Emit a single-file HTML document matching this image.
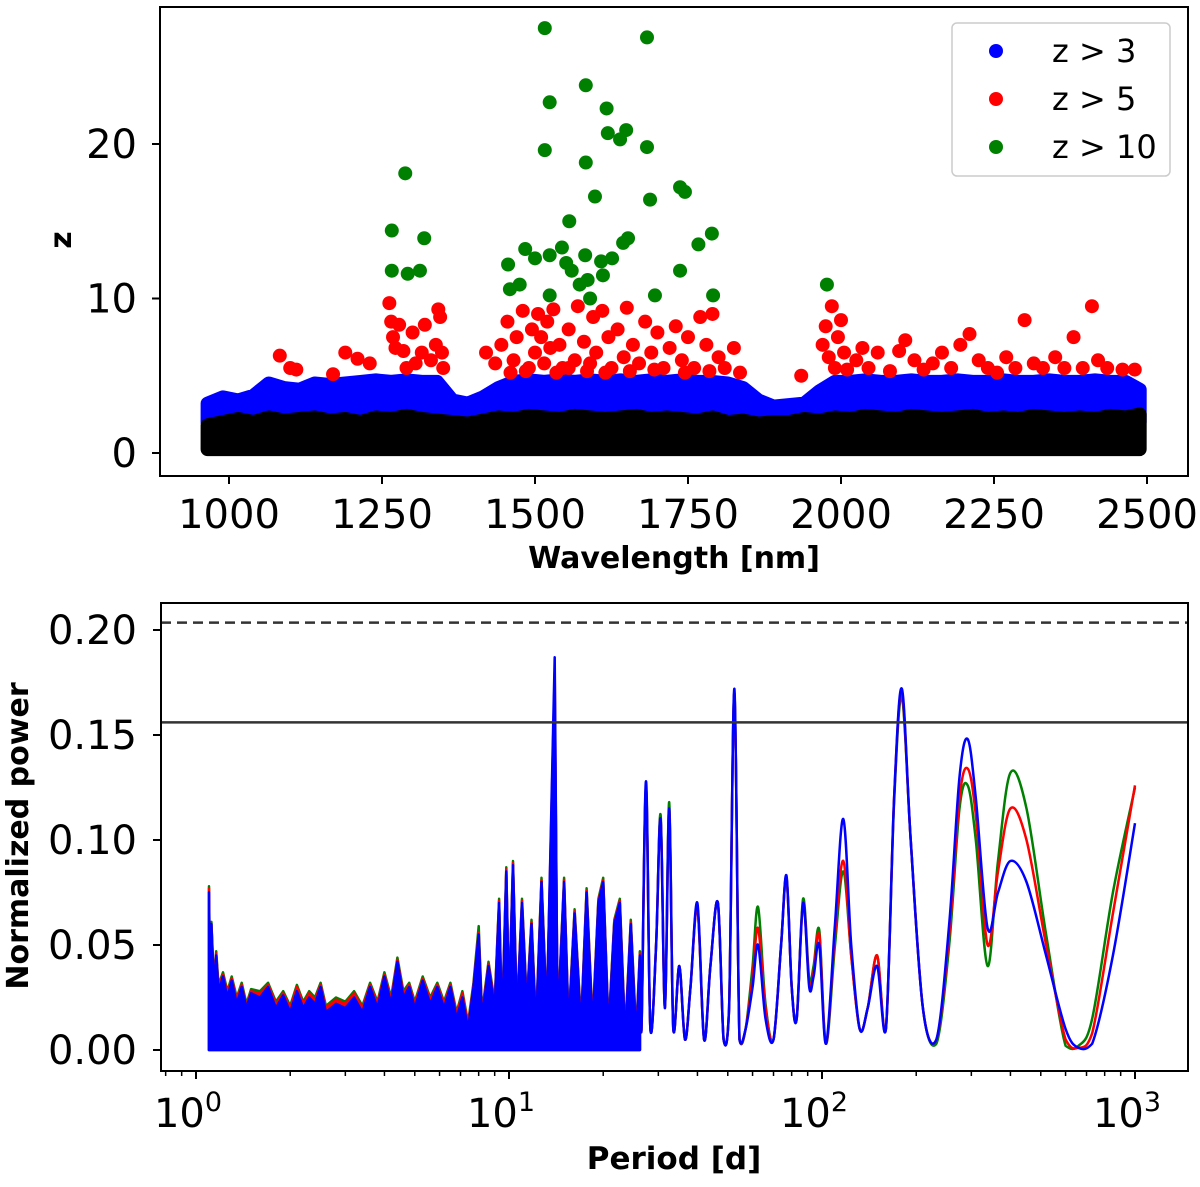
<!DOCTYPE html>
<html><head><meta charset="utf-8"><style>
body{margin:0;background:#fff}
svg text{font-family:"DejaVu Sans","Liberation Sans",sans-serif}
</style></head><body>
<svg id="fig" width="1200" height="1182" viewBox="0 0 1200 1182" xmlns="http://www.w3.org/2000/svg">
<g id="topPanel"></g>
<g id="botPanel"></g>
</svg>
<script>
// ---------- top panel data ----------
const blackWl=[965,990,1015,1040,1065,1090,1115,1140,1165,1190,1215,1240,1265,1290,1315,1340,1365,1390,1415,1440,1465,1490,1515,1540,1565,1590,1615,1640,1665,1690,1715,1740,1765,1790,1815,1840,1865,1890,1915,1940,1965,1990,2015,2040,2065,2090,2115,2140,2165,2190,2215,2240,2265,2290,2315,2340,2365,2390,2415,2440,2465,2488];
const blackTop=[1.8,2.0,2.2,2.0,2.3,2.1,2.2,2.3,2.1,2.2,2.0,2.3,2.2,2.4,2.2,2.1,2.0,1.9,2.1,2.3,2.2,2.4,2.3,2.2,2.4,2.3,2.2,2.3,2.4,2.2,2.3,2.2,2.1,2.3,2.0,2.1,1.9,2.0,2.0,2.2,2.1,2.3,2.2,2.4,2.3,2.2,2.4,2.3,2.2,2.3,2.4,2.2,2.3,2.2,2.4,2.3,2.2,2.3,2.2,2.4,2.3,2.5];
const blueWl=[965,990,1015,1040,1065,1090,1115,1140,1165,1190,1215,1240,1265,1290,1315,1340,1365,1390,1415,1440,1465,1490,1515,1540,1565,1590,1615,1640,1665,1690,1715,1740,1765,1790,1815,1840,1865,1890,1915,1940,1965,1990,2015,2040,2065,2090,2115,2140,2165,2190,2215,2240,2265,2290,2315,2340,2365,2390,2415,2440,2465,2488];
const blueTop=[3.2,3.6,3.4,3.7,4.5,4.2,4.1,4.5,4.4,4.5,4.6,4.7,4.6,4.7,4.6,4.6,3.4,3.2,3.6,4.2,4.6,4.7,4.6,4.7,4.6,4.7,4.6,4.7,4.6,4.7,4.6,4.7,4.6,4.6,4.5,4.2,3.4,3.0,3.1,3.2,4.0,4.6,4.6,4.7,4.6,4.6,4.7,4.6,4.6,4.7,4.6,4.6,4.7,4.6,4.6,4.7,4.6,4.6,4.7,4.6,4.6,4.1];
const redWl=[1083,1100,1110,1170,1190,1210,1230,1262,1265,1268,1272,1278,1285,1290,1300,1305,1315,1320,1330,1338,1342,1345,1348,1350,1420,1435,1445,1455,1465,1470,1480,1490,1495,1500,1505,1510,1515,1520,1525,1530,1540,1545,1555,1565,1570,1580,1590,1595,1600,1610,1620,1625,1635,1645,1650,1660,1670,1680,1690,1700,1710,1720,1730,1740,1750,1760,1770,1780,1790,1800,1810,1825,1835,1460,1485,1535,1555,1585,1615,1655,1695,1745,1785,1935,1970,1975,1980,1985,1990,1995,2000,2005,2010,2025,2035,2045,2060,2080,2095,2105,2120,2135,2150,2165,2180,2195,2210,2225,2240,2255,2270,2285,2300,2315,2330,2350,2365,2380,2395,2410,2420,2435,2460,2480];
const redZ=[6.3,5.5,5.4,5.1,6.5,6.1,5.8,9.7,8.5,7.5,6.8,8.3,6.6,5.5,7.8,5.8,6.5,8.3,6.0,7.0,9.3,8.8,6.5,5.5,6.5,5.8,7.0,8.5,6.0,7.5,9.2,5.5,8.0,6.5,9.0,7.5,5.8,8.5,6.8,9.3,7.0,5.5,8.0,6.0,9.5,7.2,5.8,8.8,6.5,9.2,7.5,5.5,8.0,6.2,9.4,7.0,5.8,8.5,6.5,7.8,5.5,6.8,8.2,6.0,7.5,5.5,8.8,7.0,9.0,6.2,5.5,6.8,5.2,5.2,5.3,5.2,5.5,5.3,5.2,5.3,5.4,5.2,5.3,5.0,7.0,8.2,6.2,9.5,5.5,7.5,8.6,6.5,5.4,6.0,6.8,5.5,6.5,5.3,6.6,7.3,6.0,5.4,5.8,6.5,5.5,7.0,7.7,6.0,5.5,5.2,6.2,5.5,8.6,5.8,5.5,6.2,5.5,7.5,5.5,9.5,6.0,5.5,5.4,5.4];
const greenWl=[1266,1288,1266,1292,1319,1312,1516,1524,1516,1583,1617,1583,1598,1619,1649,1639,1683,1683,1737,1745,1688,1556,1789,1767,1456,1484,1500,1524,1544,1582,1608,1626,1652,1644,1551,1560,1459,1475,1524,1573,1586,1611,1696,1737,1791,1977,1590];
const greenZ=[14.4,18.1,11.8,11.6,13.9,11.8,27.5,22.7,19.6,23.8,22.3,18.8,16.6,20.7,20.9,20.3,26.9,19.8,17.2,16.9,16.4,15.0,14.2,13.5,12.2,13.2,12.6,12.8,13.3,12.8,12.4,12.6,13.9,13.6,12.3,11.8,10.6,10.9,10.2,10.9,11.2,11.5,10.2,11.8,10.2,10.9,10.0];
const topXTicks=[1000,1250,1500,1750,2000,2250,2500];
const topYTicks=[0,10,20];
// ---------- bottom panel data ----------
const forestP=[1.10,1.11,1.12,1.14,1.16,1.18,1.22,1.26,1.3,1.35,1.4,1.45,1.5,1.6,1.7,1.8,1.9,2.0,2.1,2.2,2.3,2.4,2.5,2.6,2.8,3.0,3.2,3.4,3.6,3.8,4.0,4.2,4.4,4.6,4.8,5.0,5.3,5.6,5.9,6.2,6.5,6.8,7.1,7.4,7.7,8.0,8.2,8.6,9.0,9.3,9.5,9.8,10.0,10.3,10.6,11.0,11.4,11.8,12.2,12.7,13.2,14.0,14.3,15.0,15.5,16.2,17.0,17.7,18.5,19.3,20.0,20.8,21.7,22.6,23.5,24.5,25.5,26.2];
const forestBlue=[.075,.02,.06,.03,.045,.028,.035,.025,.033,.022,.03,.02,.027,.025,.03,.02,.026,.018,.028,.02,.025,.022,.03,.018,.022,.02,.025,.018,.03,.02,.035,.022,.042,.025,.03,.02,.033,.022,.03,.02,.03,.015,.025,.01,.03,.055,.015,.04,.02,.07,.01,.085,.02,.088,.015,.07,.02,.06,.01,.08,.015,.187,.01,.08,.01,.065,.01,.075,.01,.07,.08,.008,.06,.07,.005,.06,.005,.045];
const forestRed=[.077,.02,.06,.032,.046,.03,.036,.027,.034,.024,.031,.021,.028,.027,.031,.022,.027,.02,.03,.022,.027,.024,.031,.02,.024,.022,.027,.02,.031,.022,.036,.024,.043,.027,.031,.022,.034,.024,.031,.022,.031,.017,.027,.012,.031,.056,.017,.041,.022,.071,.012,.086,.022,.089,.017,.071,.022,.061,.012,.081,.017,.18,.012,.081,.012,.066,.012,.076,.012,.071,.081,.01,.061,.071,.007,.061,.007,.046];
const forestGreen=[.078,.02,.061,.033,.047,.031,.037,.028,.035,.025,.032,.022,.029,.028,.032,.023,.028,.021,.031,.023,.028,.025,.032,.021,.025,.023,.028,.021,.032,.023,.037,.025,.044,.028,.032,.023,.035,.025,.032,.023,.032,.018,.028,.013,.032,.059,.018,.042,.023,.072,.013,.087,.023,.09,.018,.072,.023,.062,.013,.082,.018,.17,.013,.082,.013,.067,.013,.077,.013,.072,.082,.011,.062,.072,.008,.062,.008,.047];
const smoothP=[26.5,27.4,28.3,29.5,30.5,31.5,32.5,33.5,35,36.5,38,40,42,44,46.5,48.5,50.5,52.5,54.5,57,60,62.5,66,70,74,77,80,83,87,91,94,98,103,110,117,124,132,140,150,160,170,180,192,210,232,255,275,292,310,338,365,400,450,520,600,660,730,850,1000];
const smoothBlue=[.01,.128,.01,.05,.11,.02,.115,.01,.04,.005,.03,.07,.005,.04,.07,.005,.02,.172,.005,.01,.03,.05,.015,.005,.05,.083,.03,.015,.07,.03,.035,.05,.003,.06,.11,.05,.01,.02,.04,.01,.12,.172,.1,.02,.005,.06,.13,.148,.12,.058,.075,.09,.08,.045,.01,.001,.003,.045,.108];
const smoothRed=[.01,.125,.01,.05,.11,.02,.115,.01,.04,.005,.03,.068,.005,.04,.07,.005,.02,.17,.005,.01,.035,.058,.02,.005,.05,.082,.03,.015,.07,.032,.037,.055,.003,.055,.09,.045,.01,.02,.045,.01,.12,.17,.1,.02,.005,.055,.12,.134,.112,.05,.085,.115,.1,.05,.005,.001,.008,.065,.126];
const smoothGreen=[.01,.125,.01,.05,.112,.02,.118,.01,.04,.005,.03,.068,.005,.04,.07,.005,.02,.17,.005,.01,.04,.068,.022,.005,.05,.082,.03,.015,.072,.034,.04,.057,.003,.05,.085,.045,.01,.02,.045,.01,.118,.168,.1,.02,.003,.05,.115,.126,.1,.04,.09,.132,.115,.055,.002,.002,.015,.075,.125];
const botYTicks=[0,0.05,0.1,0.15,0.2];
const botXTicks=[0,1,2,3];
const faLevels=[0.2035,0.156];

const NS="http://www.w3.org/2000/svg";
function el(tag,attrs,parent,txt){const e=document.createElementNS(NS,tag);for(const k in attrs)e.setAttribute(k,attrs[k]);if(txt!==undefined)e.textContent=txt;parent.appendChild(e);return e;}
// top axes
const T={l:160,r:1188,t:7,b:476};
const tx=w=>229+(w-1000)*0.612;
const ty=z=>453-z*15.45;
const topG=document.getElementById('topPanel');
const clipT=el('clipPath',{id:'ct'},topG);el('rect',{x:T.l,y:T.t,width:T.r-T.l,height:T.b-T.t},clipT);
const pts=el('g',{'clip-path':'url(#ct)'},topG);


function band(wl,tops,base,color,name){
  let d='M'+tx(wl[0])+','+ty(base);
  wl.forEach((w,i)=>{d+=' L'+tx(w).toFixed(1)+','+ty(tops[i]).toFixed(1);});
  d+=' L'+tx(wl[wl.length-1])+','+ty(base)+' Z';
  const e=el('path',{d:d,fill:color,stroke:color,'stroke-width':14,'stroke-linejoin':'round'},pts);
  
  
}
band(blueWl,blueTop,2.0,'#0000ff','blue-point-band');
band(blackWl,blackTop,0.25,'#000000','black-point-band');
redWl.forEach((w,i)=>{const e=el('circle',{cx:tx(w),cy:ty(redZ[i]),r:7,fill:'#ff0000'},pts);

});
greenWl.forEach((w,i)=>{const e=el('circle',{cx:tx(w),cy:ty(greenZ[i]),r:7,fill:'#008000'},pts);

});
el('rect',{x:T.l,y:T.t,width:T.r-T.l,height:T.b-T.t,fill:'none',stroke:'#000','stroke-width':2},topG);
topXTicks.forEach(v=>{el('line',{x1:tx(v),x2:tx(v),y1:T.b,y2:T.b+8,stroke:'#000','stroke-width':2},topG);
const t=el('text',{x:tx(v),y:528,'font-size':40,'text-anchor':'middle'},topG,String(v));

});
topYTicks.forEach(v=>{el('line',{x1:T.l-8,x2:T.l,y1:ty(v),y2:ty(v),stroke:'#000','stroke-width':2},topG);
const t=el('text',{x:137,y:ty(v)+14,'font-size':40,'text-anchor':'end'},topG,String(v));

});
let t1=el('text',{x:674,y:568,'font-size':30,'font-weight':'bold','text-anchor':'middle'},topG,'Wavelength [nm]');


t1=el('text',{transform:'translate(71,240) rotate(-90)','font-size':30,'font-weight':'bold','text-anchor':'middle'},topG,'z');


const leg=el('g',{},topG);


el('rect',{x:952,y:23,width:218,height:153,rx:5,fill:'#fff',stroke:'#ccc','stroke-width':1.5},leg);
[['z > 3','#0000ff'],['z > 5','#ff0000'],['z > 10','#008000']].forEach((d,i)=>{
const y=51+i*48;
el('circle',{cx:996,cy:y,r:7,fill:d[1]},leg);
const t=el('text',{x:1052,y:y+11,'font-size':32},leg,d[0]);

});
// bottom axes
const B={l:161,r:1188,t:603,b:1071};
const bx=p=>196+313*Math.log10(p);
const by=v=>1050-v*2100;
const botG=document.getElementById('botPanel');
const clipB=el('clipPath',{id:'cb'},botG);el('rect',{x:B.l,y:B.t,width:B.r-B.l,height:B.b-B.t},clipB);
const lines=el('g',{'clip-path':'url(#cb)'},botG);


function smoothPathD(P){
  const y0=by(0);
  let d='M'+P[0][0].toFixed(1)+','+P[0][1].toFixed(1);
  for(let i=0;i<P.length-1;i++){
    const p0=P[Math.max(0,i-1)],p1=P[i],p2=P[i+1],p3=P[Math.min(P.length-1,i+2)];
    const c1x=p1[0]+(p2[0]-p0[0])/6,c1y=Math.min(y0,p1[1]+(p2[1]-p0[1])/6);
    const c2x=p2[0]-(p3[0]-p1[0])/6,c2y=Math.min(y0,p2[1]-(p3[1]-p1[1])/6);
    d+=' C'+c1x.toFixed(1)+','+c1y.toFixed(1)+' '+c2x.toFixed(1)+','+c2y.toFixed(1)+' '+p2[0].toFixed(1)+','+p2[1].toFixed(1);
  }
  return d;
}
[['green','#008000',forestGreen,smoothGreen],['red','#ff0000',forestRed,smoothRed],['blue','#0000ff',forestBlue,smoothBlue]].forEach(s=>{
let d='M'+bx(forestP[0])+','+by(0);
forestP.forEach((p,i)=>{d+=' L'+bx(p).toFixed(1)+','+by(s[2][i]).toFixed(1);});
d+=' L'+bx(forestP[forestP.length-1])+','+by(0)+' Z';
const f=el('path',{d:d,fill:s[1],stroke:s[1],'stroke-width':2.5,'stroke-linejoin':'round'},lines);


const P=[[bx(forestP[forestP.length-1]),by(s[2][s[2].length-1])]].concat(smoothP.map((p,i)=>[bx(p),by(s[3][i])]));
const l=el('path',{d:smoothPathD(P),fill:'none',stroke:s[1],'stroke-width':2.5,'stroke-linejoin':'round'},lines);

});
faLevels.forEach((v,i)=>{const l=el('line',{x1:B.l,x2:B.r,y1:by(v),y2:by(v),stroke:'#333','stroke-width':2.5,'stroke-dasharray':i===0?'10,6':'none'},botG);

});
el('rect',{x:B.l,y:B.t,width:B.r-B.l,height:B.b-B.t,fill:'none',stroke:'#000','stroke-width':2},botG);
botYTicks.forEach(v=>{el('line',{x1:B.l-8,x2:B.l,y1:by(v),y2:by(v),stroke:'#000','stroke-width':2},botG);
const t=el('text',{x:137,y:by(v)+14,'font-size':40,'text-anchor':'end'},botG,v.toFixed(2));

});
botXTicks.forEach(e=>{const x=bx(Math.pow(10,e));
el('line',{x1:x,x2:x,y1:B.b,y2:B.b+8,stroke:'#000','stroke-width':2},botG);
const t=el('text',{x:x-8,y:1127,'font-size':40,'text-anchor':'middle'},botG);


el('tspan',{},t,'10');el('tspan',{dy:-16,'font-size':27},t,String(e));
for(let m=2;m<10;m++){const xm=bx(m*Math.pow(10,e));if(xm<B.r)el('line',{x1:xm,x2:xm,y1:B.b,y2:B.b+5,stroke:'#000','stroke-width':1.5},botG);}});
[0.8,0.9].forEach(m=>el('line',{x1:bx(m),x2:bx(m),y1:B.b,y2:B.b+5,stroke:'#000','stroke-width':1.5},botG));
t1=el('text',{x:674,y:1169,'font-size':31,'font-weight':'bold','text-anchor':'middle'},botG,'Period [d]');


t1=el('text',{transform:'translate(28,836) rotate(-90)','font-size':30,'font-weight':'bold','text-anchor':'middle'},botG,'Normalized power');


</script>
</body></html>
